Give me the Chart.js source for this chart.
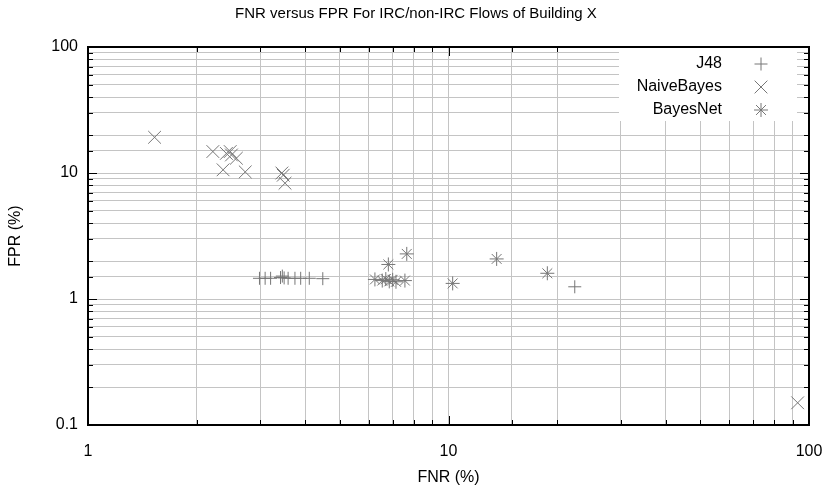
<!DOCTYPE html>
<html>
<head>
<meta charset="utf-8">
<script src="https://cdn.jsdelivr.net/npm/chart.js@4.4.1/dist/chart.umd.min.js"></script>
<style>
    html, body { margin: 0; padding: 0; background: #ffffff; }
    #wrap { width: 832px; height: 493px; }
</style>
</head>
<body>
<div id="wrap"><canvas id="scatterChart" width="832" height="493"></canvas></div>
<script>

// ==========================
// DATA (FNR %, FPR %)
// ==========================
const seriesNames = ["J48", "NaiveBayes", "BayesNet"];

const j48Fnr = [2.99, 3.10, 3.21, 3.42, 3.46, 3.50, 3.59, 3.75, 3.89, 4.11, 4.48, 22.4];
const j48Fpr = [1.46, 1.46, 1.46, 1.48, 1.52, 1.47, 1.46, 1.46, 1.46, 1.46, 1.45, 1.25];

const nbFnr = [1.53, 2.22, 2.37, 2.42, 2.48, 2.50, 2.58, 2.73, 3.45, 3.48, 3.52, 93.0];
const nbFpr = [19.2, 14.8, 10.6, 14.3, 14.8, 13.9, 13.1, 10.2, 10.0, 9.6, 8.3, 0.15];

const bnFnr = [6.25, 6.81, 7.66, 6.55, 6.70, 6.85, 7.00, 7.15, 7.57, 10.27, 13.6, 18.8];
const bnFpr = [1.43, 1.88, 2.28, 1.40, 1.44, 1.38, 1.42, 1.37, 1.40, 1.33, 2.08, 1.60];

const xTickValues = [1, 10, 100];
const yTickValues = [0.1, 1, 10, 100];

const chartTitle = "FNR versus FPR For IRC/non-IRC Flows of Building X";
const xTitle = "FNR (%)";
const yTitle = "FPR (%)";

function toPoints(xs, ys) {
    return xs.map((x, i) => ({ x: x, y: ys[i] }));
}

const markColor = "rgb(118,118,118)";
const fontFamily = "'Liberation Sans', Arial, Helvetica, sans-serif";

function isDecade(v) {
    const l = Math.log10(v);
    return Math.abs(l - Math.round(l)) < 1e-9;
}

function noScalePadding(scale) {
    scale.paddingLeft = 0;
    scale.paddingRight = 0;
    scale.paddingTop = 0;
    scale.paddingBottom = 0;
}

// frame, inner ticks, titles and legend box
const decorPlugin = {
    id: "decor",
    afterDraw(chart) {
        const ctx = chart.ctx;
        const a = chart.chartArea;
        const xs = chart.scales.x;
        const ys = chart.scales.y;

        ctx.save();

        // inner tick marks
        ctx.strokeStyle = "#000";
        ctx.lineWidth = 1;
        ctx.beginPath();
        xs.ticks.forEach(t => {
            const px = Math.round(xs.getPixelForValue(t.value)) + 0.5;
            const len = isDecade(t.value) ? 9 : 5;
            ctx.moveTo(px, a.bottom);
            ctx.lineTo(px, a.bottom - len);
            ctx.moveTo(px, a.top);
            ctx.lineTo(px, a.top + len);
        });
        ys.ticks.forEach(t => {
            const py = Math.round(ys.getPixelForValue(t.value)) + 0.5;
            const len = isDecade(t.value) ? 9 : 5;
            ctx.moveTo(a.left, py);
            ctx.lineTo(a.left + len, py);
            ctx.moveTo(a.right, py);
            ctx.lineTo(a.right - len, py);
        });
        ctx.stroke();

        // legend
        const bx = a.right - 190;
        const by = a.top + 1;
        ctx.fillStyle = "#fff";
        ctx.fillRect(bx, by, 178, 73);

        ctx.font = "16px " + fontFamily;
        ctx.fillStyle = "#000";
        ctx.textAlign = "right";
        ctx.textBaseline = "middle";
        const styles = ["cross", "crossRot", "star"];
        const radii = [6.5, 9, 7];
        seriesNames.forEach((name, i) => {
            const ly = a.top + 17 + i * 23;
            ctx.fillStyle = "#000";
            ctx.fillText(name, a.right - 87, ly);
            ctx.strokeStyle = markColor;
            ctx.lineWidth = 1;
            Chart.helpers.drawPoint(ctx, { pointStyle: styles[i], radius: radii[i], borderWidth: 1 }, a.right - 48, ly);
        });

        // frame
        ctx.strokeStyle = "#000";
        ctx.lineWidth = 2;
        ctx.strokeRect(a.left, a.top, a.right - a.left, a.bottom - a.top);

        // titles
        ctx.fillStyle = "#000";
        ctx.textAlign = "center";
        ctx.textBaseline = "middle";
        ctx.font = "15px " + fontFamily;
        ctx.fillText(chartTitle, chart.width / 2, 14);
        ctx.font = "16px " + fontFamily;
        ctx.fillText(xTitle, (a.left + a.right) / 2, 478);
        ctx.translate(16, (a.top + a.bottom) / 2);
        ctx.rotate(-Math.PI / 2);
        ctx.fillText(yTitle, 0, 0);

        ctx.restore();
    }
};

new Chart(document.getElementById("scatterChart"), {

    type: "scatter",

    data: {
        datasets: [
            {
                label: seriesNames[0],
                data: toPoints(j48Fnr, j48Fpr),
                pointStyle: "cross",
                pointRadius: 6.5,
                borderColor: markColor,
                borderWidth: 1
            },
            {
                label: seriesNames[1],
                data: toPoints(nbFnr, nbFpr),
                pointStyle: "crossRot",
                pointRadius: 9,
                borderColor: markColor,
                borderWidth: 1
            },
            {
                label: seriesNames[2],
                data: toPoints(bnFnr, bnFpr),
                pointStyle: "star",
                pointRadius: 7,
                borderColor: markColor,
                borderWidth: 1
            }
        ]
    },

    options: {
        responsive: false,
        animation: false,
        devicePixelRatio: 1,
        layout: {
            padding: { top: 47, right: 23, bottom: 0, left: 0 }
        },
        scales: {
            x: {
                type: "logarithmic",
                min: 1,
                max: 100,
                afterFit(scale) { scale.height = 68; noScalePadding(scale); },
                border: { display: false },
                grid: { color: "#c4c4c4", lineWidth: 1, drawTicks: false },
                ticks: {
                    autoSkip: false,
                    maxRotation: 0,
                    padding: 17,
                    color: "#000",
                    font: { family: fontFamily, size: 16 },
                    callback: function (value) {
                        return xTickValues.includes(value) ? String(value) : "";
                    }
                }
            },
            y: {
                type: "logarithmic",
                min: 0.1,
                max: 100,
                afterFit(scale) { scale.width = 88; noScalePadding(scale); },
                border: { display: false },
                grid: { color: "#c4c4c4", lineWidth: 1, drawTicks: false },
                ticks: {
                    autoSkip: false,
                    padding: 10,
                    color: "#000",
                    font: { family: fontFamily, size: 16 },
                    callback: function (value) {
                        return yTickValues.some(v => Math.abs(v - value) < 1e-9) ? String(value) : "";
                    }
                }
            }
        },
        plugins: {
            legend: { display: false },
            title: { display: false },
            tooltip: { enabled: false }
        }
    },

    plugins: [decorPlugin]

});
</script>
</body>
</html>
